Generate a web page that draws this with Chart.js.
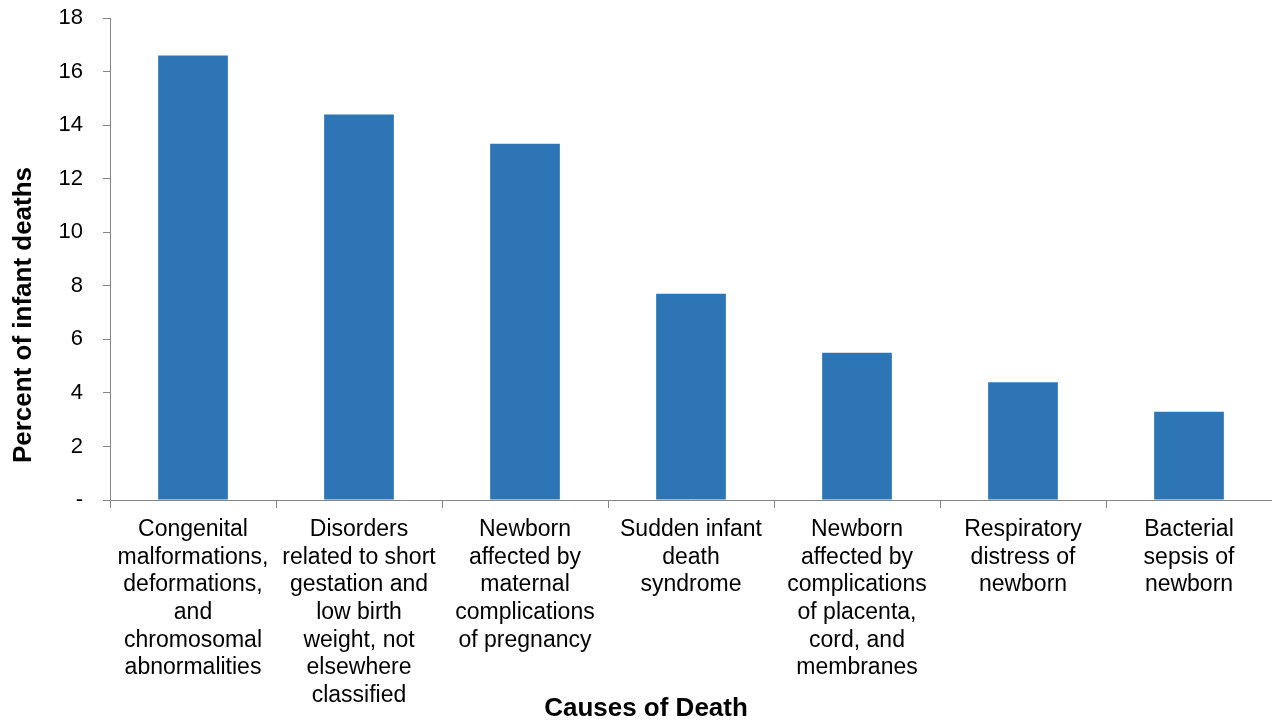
<!DOCTYPE html>
<html>
<head>
<meta charset="utf-8">
<script src="https://cdn.jsdelivr.net/npm/chart.js@4/dist/chart.umd.min.js"></script>
<style>
  html, body { margin: 0; padding: 0; background: #fff; }
  #wrap { width: 1272px; height: 721px; position: relative; }
</style>
</head>
<body>
<div id="wrap"><canvas id="chart"></canvas></div>
<script>
// Data
const causes = [
    ['Congenital', 'malformations,', 'deformations,', 'and', 'chromosomal', 'abnormalities'],
    ['Disorders', 'related to short', 'gestation and', 'low birth', 'weight, not', 'elsewhere', 'classified'],
    ['Newborn', 'affected by', 'maternal', 'complications', 'of pregnancy'],
    ['Sudden infant', 'death', 'syndrome'],
    ['Newborn', 'affected by', 'complications', 'of placenta,', 'cord, and', 'membranes'],
    ['Respiratory', 'distress of', 'newborn'],
    ['Bacterial', 'sepsis of', 'newborn']
];
const percentDeaths = [16.6, 14.4, 13.3, 7.7, 5.5, 4.4, 3.3];
const yTicks = [0, 2, 4, 6, 8, 10, 12, 14, 16, 18];

const axisColor = '#868686';
const barColor = '#2E75B6';
const fontFamily = '"Liberation Sans", Arial, sans-serif';

// axis titles sit a little off-centre in the source, so draw them by hand
const axisTitles = {
    id: 'axisTitles',
    afterDraw(chart) {
        const ctx = chart.ctx;
        const area = chart.chartArea;
        ctx.save();
        ctx.font = 'bold 26px ' + fontFamily;
        ctx.fillStyle = '#000';
        ctx.textAlign = 'center';
        ctx.textBaseline = 'middle';
        ctx.fillText('Causes of Death', chart.width / 2 + 10, chart.height - 12);
        ctx.translate(24, (area.top + area.bottom) / 2 + 56);
        ctx.rotate(-Math.PI / 2);
        ctx.fillText('Percent of infant deaths', 0, 0);
        ctx.restore();
    }
};

new Chart(document.getElementById('chart'), {
    type: 'bar',
    data: {
        labels: causes,
        datasets: [{
            data: percentDeaths,
            backgroundColor: barColor,
            barPercentage: 0.42,
            categoryPercentage: 1
        }]
    },
    options: {
        responsive: true,
        maintainAspectRatio: false,
        animation: false,
        layout: { padding: { top: 18, left: 0, right: 0, bottom: 0 } },
        plugins: {
            legend: { display: false },
            tooltip: { enabled: false }
        },
        scales: {
            x: {
                offset: true,
                grid: {
                    offset: true,
                    drawOnChartArea: false,
                    drawTicks: true,
                    tickLength: 8,
                    color: axisColor
                },
                border: { color: axisColor, width: 1 },
                ticks: {
                    autoSkip: false,
                    maxRotation: 0,
                    minRotation: 0,
                    padding: 8,
                    color: '#000',
                    font: { family: fontFamily, size: 23, lineHeight: 1.2 }
                },
                afterFit(scale) { scale.height = 221; }
            },
            y: {
                min: 0,
                max: 18,
                afterBuildTicks(scale) { scale.ticks = yTicks.map(v => ({ value: v })); },
                grid: {
                    drawOnChartArea: false,
                    drawTicks: true,
                    tickLength: 7,
                    color: axisColor
                },
                border: { color: axisColor, width: 1 },
                ticks: {
                    padding: 20,
                    color: '#000',
                    font: { family: fontFamily, size: 22 },
                    callback: (v) => v === 0 ? '-' : v
                },
                afterFit(scale) {
                    scale.width = 110;
                    scale.paddingTop = 0;
                    scale.paddingBottom = 0;
                }
            }
        }
    },
    plugins: [axisTitles]
});
</script>
</body>
</html>
